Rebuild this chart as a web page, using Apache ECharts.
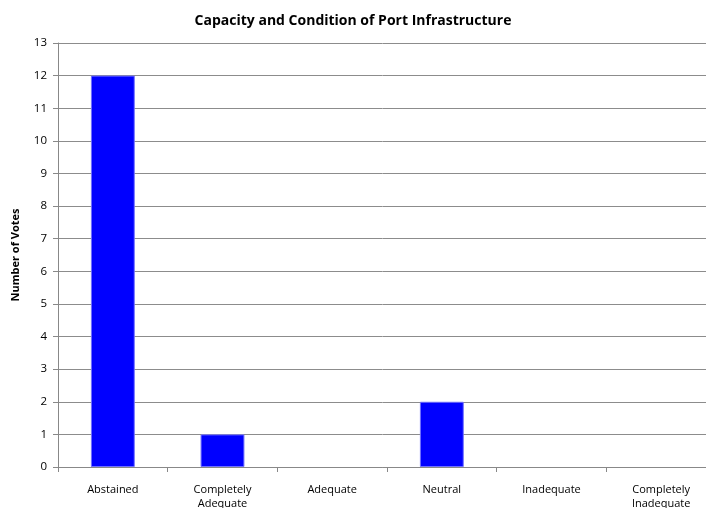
<!DOCTYPE html>
<html><head><meta charset="utf-8">
<script src="https://cdn.jsdelivr.net/npm/echarts@6/dist/echarts.min.js"></script>
<style>html,body{margin:0;padding:0;background:#fff}#c{width:706px;height:508px}</style>
</head><body><div id="c"></div>
<script>
const categories = ["Abstained", "Completely Adequate", "Adequate", "Neutral", "Inadequate", "Completely Inadequate"];
const votes = [12, 1, 0, 2, 0, 0];
const yTicks = {min: 0, max: 13, interval: 1};
const chart = echarts.init(document.getElementById('c'));
const font = '"Open Sans", "Noto Sans", sans-serif';
chart.setOption({
  animation: false,
  title: {text: 'Capacity and Condition of Port Infrastructure', left: 'center', top: 9,
    textStyle: {fontFamily: font, fontSize: 14, fontWeight: 'bold', color: '#000'}},
  grid: {left: 58, top: 43, width: 658, height: 424, containLabel: false, outerBoundsMode: 'none'},
  xAxis: {type: 'category', data: categories,
    axisLine: {lineStyle: {color: '#888', width: 1}},
    axisTick: {show: true, length: 5, lineStyle: {color: '#888'}},
    axisLabel: {fontFamily: font, fontSize: 11, color: '#000', margin: 16, lineHeight: 14,
      formatter: v => v.replace(' ', '\n')}},
  yAxis: {type: 'value', min: yTicks.min, max: yTicks.max, interval: yTicks.interval,
    name: 'Number of Votes', nameLocation: 'middle', nameGap: 37,
    nameTextStyle: {fontFamily: font, fontSize: 11, fontWeight: 'bold', color: '#000'},
    axisLine: {show: true, lineStyle: {color: '#888'}},
    axisTick: {show: true, length: 5, lineStyle: {color: '#888'}},
    axisLabel: {fontFamily: font, fontSize: 11.5, color: '#000', margin: 11},
    splitLine: {show: true, lineStyle: {color: '#8c8c8c', width: 1}}},
  series: [{type: 'bar', barWidth: '40%',
    data: votes.map(v => ({value: v, itemStyle: {borderWidth: v === 0 ? 0 : 1}})),
    itemStyle: {color: '#0000ff', borderColor: '#7070ff', borderWidth: 1}}]
});
</script></body></html>
